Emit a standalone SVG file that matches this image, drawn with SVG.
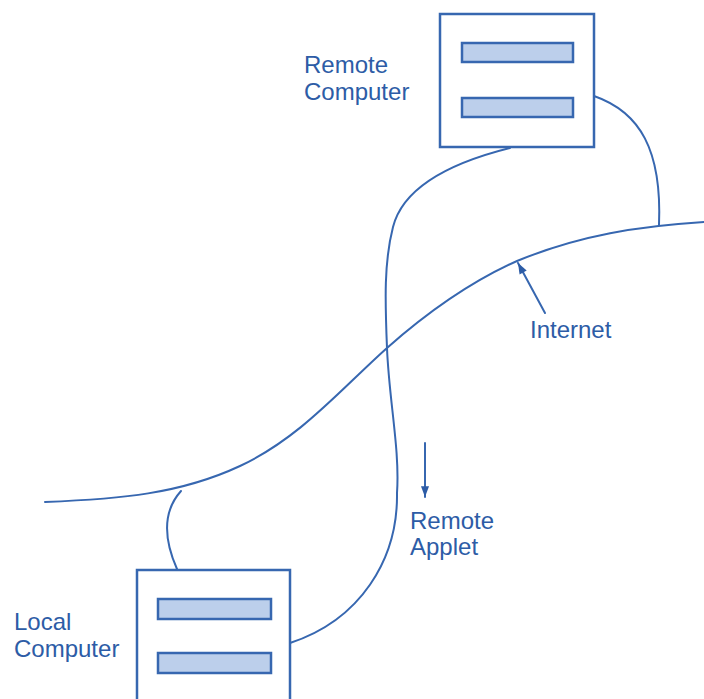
<svg xmlns="http://www.w3.org/2000/svg" width="704" height="699" viewBox="0 0 704 699">
  <style>
    .ln { fill: none; stroke: #3767b0; stroke-width: 2; stroke-linecap: round; }
    .box { fill: #ffffff; stroke: #3767b0; stroke-width: 2.5; }
    .bar { fill: #bccfeb; stroke: #3767b0; stroke-width: 2.5; }
    .lbl { font-family: "Liberation Sans", Arial, sans-serif; font-size: 24px; fill: #2d5ca6; }
  </style>
  <defs>
    <marker id="ah" viewBox="0 0 12 10" refX="12" refY="5" markerWidth="12" markerHeight="9" orient="auto" markerUnits="userSpaceOnUse">
      <path d="M0,0.5 L12,5 L0,9.5 Z" fill="#2d5ca6"/>
    </marker>
  </defs>
  <rect width="704" height="699" fill="#ffffff"/>

  <g id="connectors">
    <path id="internet" class="ln" d="M45,502 C120,499 180,494 240,466 C300,438 340,390 387,348 C430,310 470,282 517,261 C580,235 640,226 704,222"/>
    <path id="applet-path" class="ln" d="M510,148 C450,163 403,188 393,227 C384,262 385,300 387,348 C389,400 400,450 397,493 C398,560 360,620 290,643"/>
    <path id="remote-link" class="ln" d="M594,96 C640,112 662,150 659,225"/>
    <path id="local-link" class="ln" d="M181,491 C164,510 162,535 177,569"/>
    <line id="internet-arrow" class="ln" x1="545" y1="313" x2="518" y2="263" marker-end="url(#ah)"/>
    <line id="applet-arrow" class="ln" x1="425" y1="443" x2="425" y2="497" marker-end="url(#ah)"/>
  </g>

  <g id="remote-computer">
    <rect class="box" x="440" y="14" width="154" height="133"/>
    <rect class="bar" x="462" y="43" width="111" height="19"/>
    <rect class="bar" x="462" y="98" width="111" height="19"/>
    <text class="lbl" x="304" y="73">Remote</text>
    <text class="lbl" x="304" y="100">Computer</text>
  </g>

  <g id="local-computer">
    <rect class="box" x="137" y="570" width="153" height="140"/>
    <rect class="bar" x="158" y="599" width="113" height="20"/>
    <rect class="bar" x="158" y="653" width="113" height="20"/>
    <text class="lbl" x="14" y="630">Local</text>
    <text class="lbl" x="14" y="657">Computer</text>
  </g>

  <g id="labels">
    <text class="lbl" x="530" y="338">Internet</text>
    <text class="lbl" x="410" y="529">Remote</text>
    <text class="lbl" x="410" y="555">Applet</text>
  </g>
</svg>
